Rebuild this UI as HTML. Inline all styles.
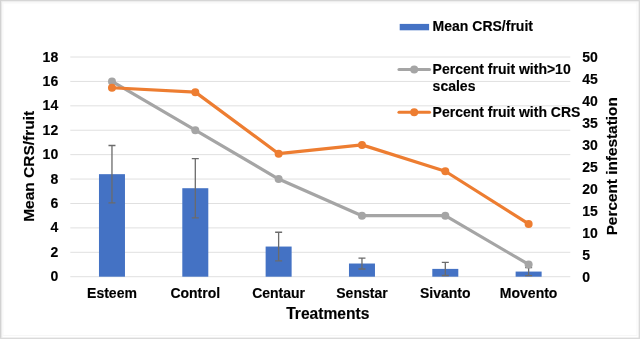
<!DOCTYPE html><html><head><meta charset="utf-8"><style>html,body{margin:0;padding:0;background:#fff}#w{position:relative;width:640px;height:339px;overflow:hidden;background:#fff}svg{position:absolute;left:0;top:0;filter:blur(0.4px)}</style></head><body><div id="w">
<svg width="640" height="339" viewBox="0 0 640 339">
<rect x="0" y="0" width="640" height="339" fill="#fff"/>
<rect x="0" y="0" width="640" height="1.3" fill="#d6d6d6"/>
<rect x="0" y="0" width="1.3" height="339" fill="#d2d2d2"/>
<rect x="1.3" y="1.3" width="637" height="1" fill="#ebebeb"/>
<rect x="1.3" y="1.3" width="1" height="336" fill="#e6e6e6"/>
<rect x="3" y="3" width="634" height="332.5" fill="none" stroke="#f7f7f7" stroke-width="1"/>
<rect x="638.6" y="0" width="1.4" height="339" fill="#dadada"/>
<rect x="0" y="337.6" width="640" height="1.4" fill="#dadada"/>
<line x1="70.3" y1="276.70" x2="570.3" y2="276.70" stroke="#e0e0e0" stroke-width="1"/>
<line x1="70.3" y1="252.29" x2="570.3" y2="252.29" stroke="#e0e0e0" stroke-width="1"/>
<line x1="70.3" y1="227.88" x2="570.3" y2="227.88" stroke="#e0e0e0" stroke-width="1"/>
<line x1="70.3" y1="203.47" x2="570.3" y2="203.47" stroke="#e0e0e0" stroke-width="1"/>
<line x1="70.3" y1="179.06" x2="570.3" y2="179.06" stroke="#e0e0e0" stroke-width="1"/>
<line x1="70.3" y1="154.64" x2="570.3" y2="154.64" stroke="#e0e0e0" stroke-width="1"/>
<line x1="70.3" y1="130.23" x2="570.3" y2="130.23" stroke="#e0e0e0" stroke-width="1"/>
<line x1="70.3" y1="105.82" x2="570.3" y2="105.82" stroke="#e0e0e0" stroke-width="1"/>
<line x1="70.3" y1="81.41" x2="570.3" y2="81.41" stroke="#e0e0e0" stroke-width="1"/>
<line x1="70.3" y1="57.00" x2="570.3" y2="57.00" stroke="#e0e0e0" stroke-width="1"/>
<rect x="98.97" y="174.17" width="26" height="102.53" fill="#4472c4"/>
<rect x="182.30" y="188.21" width="26" height="88.49" fill="#4472c4"/>
<rect x="265.63" y="246.55" width="26" height="30.15" fill="#4472c4"/>
<rect x="348.97" y="263.52" width="26" height="13.18" fill="#4472c4"/>
<rect x="432.30" y="268.89" width="26" height="7.81" fill="#4472c4"/>
<rect x="515.63" y="271.57" width="26" height="5.13" fill="#4472c4"/>
<path d="M111.97 145.49V202.86M108.47 145.49H115.47M108.47 202.86H115.47" stroke="#6b6b6b" stroke-width="1.3" fill="none"/>
<path d="M195.30 158.55V217.87M191.80 158.55H198.80M191.80 217.87H198.80" stroke="#6b6b6b" stroke-width="1.3" fill="none"/>
<path d="M278.63 232.27V260.83M275.13 232.27H282.13M275.13 260.83H282.13" stroke="#6b6b6b" stroke-width="1.3" fill="none"/>
<path d="M361.97 258.03V269.01M358.47 258.03H365.47M358.47 269.01H365.47" stroke="#6b6b6b" stroke-width="1.3" fill="none"/>
<path d="M445.30 262.30V275.48M441.80 262.30H448.80M441.80 275.48H448.80" stroke="#6b6b6b" stroke-width="1.3" fill="none"/>
<path d="M528.63 267.55V275.60M525.13 267.55H532.13M525.13 275.60H532.13" stroke="#6b6b6b" stroke-width="1.3" fill="none"/>
<polyline points="111.97,81.41 195.30,130.23 278.63,179.06 361.97,215.67 445.30,215.67 528.63,264.49" fill="none" stroke="#a5a5a5" stroke-width="3.2" stroke-linejoin="round" stroke-linecap="round"/>
<circle cx="111.97" cy="81.41" r="4" fill="#a5a5a5"/>
<circle cx="195.30" cy="130.23" r="4" fill="#a5a5a5"/>
<circle cx="278.63" cy="179.06" r="4" fill="#a5a5a5"/>
<circle cx="361.97" cy="215.67" r="4" fill="#a5a5a5"/>
<circle cx="445.30" cy="215.67" r="4" fill="#a5a5a5"/>
<circle cx="528.63" cy="264.49" r="4" fill="#a5a5a5"/>
<polyline points="111.97,87.76 195.30,92.15 278.63,153.67 361.97,144.88 445.30,171.24 528.63,223.97" fill="none" stroke="#ed7d31" stroke-width="3.2" stroke-linejoin="round" stroke-linecap="round"/>
<circle cx="111.97" cy="87.76" r="4" fill="#ed7d31"/>
<circle cx="195.30" cy="92.15" r="4" fill="#ed7d31"/>
<circle cx="278.63" cy="153.67" r="4" fill="#ed7d31"/>
<circle cx="361.97" cy="144.88" r="4" fill="#ed7d31"/>
<circle cx="445.30" cy="171.24" r="4" fill="#ed7d31"/>
<circle cx="528.63" cy="223.97" r="4" fill="#ed7d31"/>
<text x="58.2" y="281.30" text-anchor="end" style="font-family:'Liberation Sans',sans-serif;font-weight:bold;stroke:#000;stroke-width:0.15px;font-size:14px" fill="#000">0</text>
<text x="58.2" y="256.89" text-anchor="end" style="font-family:'Liberation Sans',sans-serif;font-weight:bold;stroke:#000;stroke-width:0.15px;font-size:14px" fill="#000">2</text>
<text x="58.2" y="232.48" text-anchor="end" style="font-family:'Liberation Sans',sans-serif;font-weight:bold;stroke:#000;stroke-width:0.15px;font-size:14px" fill="#000">4</text>
<text x="58.2" y="208.07" text-anchor="end" style="font-family:'Liberation Sans',sans-serif;font-weight:bold;stroke:#000;stroke-width:0.15px;font-size:14px" fill="#000">6</text>
<text x="58.2" y="183.66" text-anchor="end" style="font-family:'Liberation Sans',sans-serif;font-weight:bold;stroke:#000;stroke-width:0.15px;font-size:14px" fill="#000">8</text>
<text x="58.2" y="159.24" text-anchor="end" style="font-family:'Liberation Sans',sans-serif;font-weight:bold;stroke:#000;stroke-width:0.15px;font-size:14px" fill="#000">10</text>
<text x="58.2" y="134.83" text-anchor="end" style="font-family:'Liberation Sans',sans-serif;font-weight:bold;stroke:#000;stroke-width:0.15px;font-size:14px" fill="#000">12</text>
<text x="58.2" y="110.42" text-anchor="end" style="font-family:'Liberation Sans',sans-serif;font-weight:bold;stroke:#000;stroke-width:0.15px;font-size:14px" fill="#000">14</text>
<text x="58.2" y="86.01" text-anchor="end" style="font-family:'Liberation Sans',sans-serif;font-weight:bold;stroke:#000;stroke-width:0.15px;font-size:14px" fill="#000">16</text>
<text x="58.2" y="61.60" text-anchor="end" style="font-family:'Liberation Sans',sans-serif;font-weight:bold;stroke:#000;stroke-width:0.15px;font-size:14px" fill="#000">18</text>
<text x="582.3" y="281.70" style="font-family:'Liberation Sans',sans-serif;font-weight:bold;stroke:#000;stroke-width:0.15px;font-size:14px" fill="#000">0</text>
<text x="582.3" y="259.73" style="font-family:'Liberation Sans',sans-serif;font-weight:bold;stroke:#000;stroke-width:0.15px;font-size:14px" fill="#000">5</text>
<text x="582.3" y="237.76" style="font-family:'Liberation Sans',sans-serif;font-weight:bold;stroke:#000;stroke-width:0.15px;font-size:14px" fill="#000">10</text>
<text x="582.3" y="215.79" style="font-family:'Liberation Sans',sans-serif;font-weight:bold;stroke:#000;stroke-width:0.15px;font-size:14px" fill="#000">15</text>
<text x="582.3" y="193.82" style="font-family:'Liberation Sans',sans-serif;font-weight:bold;stroke:#000;stroke-width:0.15px;font-size:14px" fill="#000">20</text>
<text x="582.3" y="171.85" style="font-family:'Liberation Sans',sans-serif;font-weight:bold;stroke:#000;stroke-width:0.15px;font-size:14px" fill="#000">25</text>
<text x="582.3" y="149.88" style="font-family:'Liberation Sans',sans-serif;font-weight:bold;stroke:#000;stroke-width:0.15px;font-size:14px" fill="#000">30</text>
<text x="582.3" y="127.91" style="font-family:'Liberation Sans',sans-serif;font-weight:bold;stroke:#000;stroke-width:0.15px;font-size:14px" fill="#000">35</text>
<text x="582.3" y="105.94" style="font-family:'Liberation Sans',sans-serif;font-weight:bold;stroke:#000;stroke-width:0.15px;font-size:14px" fill="#000">40</text>
<text x="582.3" y="83.97" style="font-family:'Liberation Sans',sans-serif;font-weight:bold;stroke:#000;stroke-width:0.15px;font-size:14px" fill="#000">45</text>
<text x="582.3" y="62.00" style="font-family:'Liberation Sans',sans-serif;font-weight:bold;stroke:#000;stroke-width:0.15px;font-size:14px" fill="#000">50</text>
<text x="111.97" y="298" text-anchor="middle" style="font-family:'Liberation Sans',sans-serif;font-weight:bold;stroke:#000;stroke-width:0.15px;font-size:14px" fill="#000">Esteem</text>
<text x="195.30" y="298" text-anchor="middle" style="font-family:'Liberation Sans',sans-serif;font-weight:bold;stroke:#000;stroke-width:0.15px;font-size:14px" fill="#000">Control</text>
<text x="278.63" y="298" text-anchor="middle" style="font-family:'Liberation Sans',sans-serif;font-weight:bold;stroke:#000;stroke-width:0.15px;font-size:14px" fill="#000">Centaur</text>
<text x="361.97" y="298" text-anchor="middle" style="font-family:'Liberation Sans',sans-serif;font-weight:bold;stroke:#000;stroke-width:0.15px;font-size:14px" fill="#000">Senstar</text>
<text x="445.30" y="298" text-anchor="middle" style="font-family:'Liberation Sans',sans-serif;font-weight:bold;stroke:#000;stroke-width:0.15px;font-size:14px" fill="#000">Sivanto</text>
<text x="528.63" y="298" text-anchor="middle" style="font-family:'Liberation Sans',sans-serif;font-weight:bold;stroke:#000;stroke-width:0.15px;font-size:14px" fill="#000">Movento</text>
<text x="327.8" y="318.6" text-anchor="middle" style="font-family:'Liberation Sans',sans-serif;font-weight:bold;stroke:#000;stroke-width:0.15px;font-size:15.6px" fill="#000">Treatments</text>
<text transform="translate(34.3,166.3) rotate(-90)" text-anchor="middle" style="font-family:'Liberation Sans',sans-serif;font-weight:bold;stroke:#000;stroke-width:0.15px;font-size:15.5px" fill="#000">Mean CRS/fruit</text>
<text transform="translate(616.8,166.3) rotate(-90)" text-anchor="middle" style="font-family:'Liberation Sans',sans-serif;font-weight:bold;stroke:#000;stroke-width:0.15px;font-size:15.35px" fill="#000">Percent infestation</text>
<rect x="399.7" y="23.9" width="29.4" height="6.4" fill="#4472c4"/>
<text x="432.6" y="31.3" style="font-family:'Liberation Sans',sans-serif;font-weight:bold;stroke:#000;stroke-width:0.15px;font-size:14px" fill="#000">Mean CRS/fruit</text>
<line x1="399" y1="69.5" x2="429.5" y2="69.5" stroke="#a5a5a5" stroke-width="3.1" stroke-linecap="round"/><circle cx="414.2" cy="69.5" r="4" fill="#a5a5a5"/>
<text x="432.6" y="73.6" style="font-family:'Liberation Sans',sans-serif;font-weight:bold;stroke:#000;stroke-width:0.15px;font-size:14px" fill="#000">Percent fruit with&gt;10</text>
<text x="432.6" y="90.8" style="font-family:'Liberation Sans',sans-serif;font-weight:bold;stroke:#000;stroke-width:0.15px;font-size:14px" fill="#000">scales</text>
<line x1="399" y1="112.2" x2="429.5" y2="112.2" stroke="#ed7d31" stroke-width="3.1" stroke-linecap="round"/><circle cx="414.2" cy="112.2" r="4" fill="#ed7d31"/>
<text x="432.6" y="116.9" style="font-family:'Liberation Sans',sans-serif;font-weight:bold;stroke:#000;stroke-width:0.15px;font-size:14px" fill="#000">Percent fruit with CRS</text>
</svg></div></body></html>
